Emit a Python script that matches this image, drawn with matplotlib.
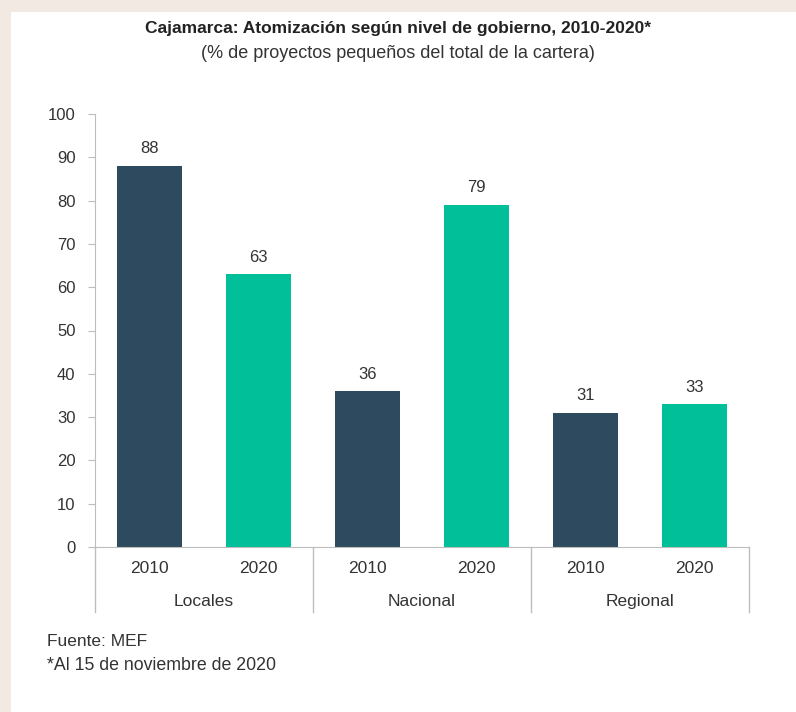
import matplotlib
matplotlib.use("Agg")
from matplotlib import pyplot as plt
import numpy as np

plt.rcParams['font.family'] = ['Liberation Sans', 'DejaVu Sans']

groups = ["Locales", "Nacional", "Regional"]
years = ["2010", "2020"]
values_2010 = [88, 36, 31]
values_2020 = [63, 79, 33]
yticks = [0, 10, 20, 30, 40, 50, 60, 70, 80, 90, 100]

dark = "#2e4a5f"
teal = "#00bf99"
grey = "#bdbdbd"
txt = "#333333"

fig = plt.figure(figsize=(7.96, 7.12), dpi=100)
fig.patch.set_facecolor("#f2e9e3")

# white panel behind everything
bg = fig.add_axes([11 / 796, 0, 1 - 11 / 796, 1 - 12 / 712], zorder=-1)
bg.axis("off")
bg.add_patch(plt.Rectangle((0, 0), 1, 1, transform=bg.transAxes, color="white"))

ax = fig.add_axes([95 / 796, 1 - 547 / 712, 654 / 796, 433 / 712])
ax.set_facecolor("none")

pos = np.arange(len(groups) * 2)
vals = []
cols = []
for a, b in zip(values_2010, values_2020):
    vals += [a, b]
    cols += [dark, teal]

ax.bar(pos, vals, width=0.59, color=cols, zorder=2)
for x, v in zip(pos, vals):
    ax.text(x, v + 2.2, str(v), ha="center", va="bottom", fontsize=12, color=txt)

ax.set_xlim(-0.5, len(pos) - 0.5)
ax.set_ylim(0, 100)
ax.set_yticks(yticks)
ax.tick_params(axis="y", length=5, color=grey, labelsize=12, labelcolor=txt, pad=9)
ax.set_xticks([])
for s in ["top", "right"]:
    ax.spines[s].set_visible(False)
ax.spines["left"].set_color(grey)
ax.spines["bottom"].set_color(grey)

# year labels and group labels below axis
for i, x in enumerate(pos):
    ax.text(x, -5.0, years[i % 2], ha="center", va="center", fontsize=12.5, color=txt,
            clip_on=False)
for g, name in enumerate(groups):
    ax.text(2 * g + 0.5, -12.6, name, ha="center", va="center", fontsize=12.5, color=txt,
            clip_on=False)
for k in range(len(groups) + 1):
    ax.plot([2 * k - 0.5, 2 * k - 0.5], [0, -15.0], color=grey, lw=1, clip_on=False)

fig.text(0.5, 1 - 29 / 712, "Cajamarca: Atomización según nivel de gobierno, 2010-2020*",
         ha="center", va="center", fontsize=12.5, fontweight="bold", color="#222222")
fig.text(0.5, 1 - 53 / 712, "(% de proyectos pequeños del total de la cartera)",
         ha="center", va="center", fontsize=13, color=txt)
fig.text(47 / 796, 1 - 642 / 712, "Fuente: MEF", ha="left", va="center", fontsize=12.5, color=txt)
fig.text(47 / 796, 1 - 666 / 712, "*Al 15 de noviembre de 2020", ha="left", va="center",
         fontsize=12.8, color=txt)

fig.savefig("out.png", dpi=100, facecolor=fig.get_facecolor())
